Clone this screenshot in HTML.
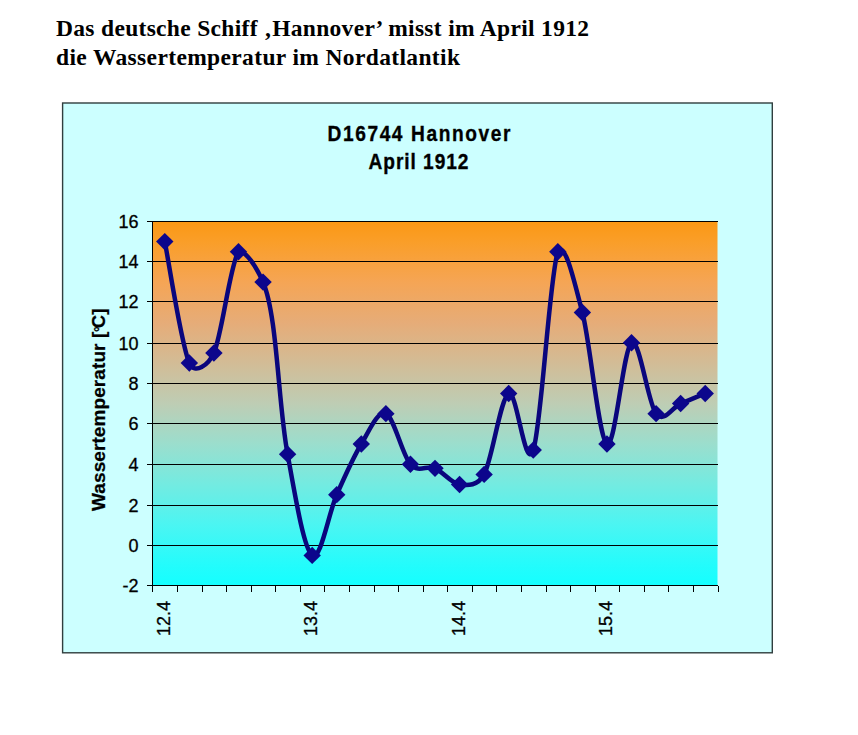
<!DOCTYPE html>
<html><head><meta charset="utf-8"><style>
html,body{margin:0;padding:0;background:#fff;width:858px;height:735px;overflow:hidden}
svg{position:absolute;left:0;top:0}
</style></head><body>
<svg width="858" height="735" viewBox="0 0 858 735">
<defs>
<linearGradient id="g" x1="0" y1="0" x2="0" y2="1">
<stop offset="0.000" stop-color="rgb(250,152,20)"/>
<stop offset="0.055" stop-color="rgb(250,158,40)"/>
<stop offset="0.167" stop-color="rgb(245,165,85)"/>
<stop offset="0.278" stop-color="rgb(230,172,120)"/>
<stop offset="0.389" stop-color="rgb(210,188,150)"/>
<stop offset="0.500" stop-color="rgb(190,205,180)"/>
<stop offset="0.611" stop-color="rgb(155,222,205)"/>
<stop offset="0.722" stop-color="rgb(115,235,225)"/>
<stop offset="0.833" stop-color="rgb(75,245,242)"/>
<stop offset="0.944" stop-color="rgb(35,252,252)"/>
<stop offset="1.000" stop-color="rgb(20,255,255)"/>
</linearGradient>
</defs>
<g font-family="'Liberation Serif', serif" font-weight="bold" font-size="23.5" fill="#000">
<text x="56" y="36" textLength="533" lengthAdjust="spacing">Das deutsche Schiff ‚Hannover’ misst im April 1912</text>
<text x="56" y="65" textLength="404" lengthAdjust="spacing">die Wassertemperatur im Nordatlantik</text>
</g>
<rect x="62.6" y="103" width="709.7" height="549.8" fill="#CCFFFF" stroke="rgb(48,62,62)" stroke-width="1.4"/>
<g font-family="'Liberation Sans', sans-serif" font-weight="bold" font-size="22" fill="#000" stroke="#000" stroke-width="0.35">
<text transform="translate(327.5,140.8) scale(0.87,1)" x="0" y="0" textLength="210.3" lengthAdjust="spacing">D16744 Hannover</text>
<text transform="translate(368.5,169) scale(0.87,1)" x="0" y="0" textLength="114.9" lengthAdjust="spacing">April 1912</text>
</g>
<rect x="152.5" y="221.35" width="565.0" height="364.4" fill="url(#g)"/>
<g stroke="#000" stroke-width="1" shape-rendering="crispEdges"><line x1="152.5" y1="221.5" x2="717.5" y2="221.5"/><line x1="152.5" y1="261.5" x2="717.5" y2="261.5"/><line x1="152.5" y1="301.5" x2="717.5" y2="301.5"/><line x1="152.5" y1="343.5" x2="717.5" y2="343.5"/><line x1="152.5" y1="383.5" x2="717.5" y2="383.5"/><line x1="152.5" y1="423.5" x2="717.5" y2="423.5"/><line x1="152.5" y1="464.5" x2="717.5" y2="464.5"/><line x1="152.5" y1="505.5" x2="717.5" y2="505.5"/><line x1="152.5" y1="545.5" x2="717.5" y2="545.5"/><line x1="152.5" y1="585.5" x2="717.5" y2="585.5"/><line x1="147" y1="221.5" x2="152.5" y2="221.5"/><line x1="147" y1="261.5" x2="152.5" y2="261.5"/><line x1="147" y1="301.5" x2="152.5" y2="301.5"/><line x1="147" y1="343.5" x2="152.5" y2="343.5"/><line x1="147" y1="383.5" x2="152.5" y2="383.5"/><line x1="147" y1="423.5" x2="152.5" y2="423.5"/><line x1="147" y1="464.5" x2="152.5" y2="464.5"/><line x1="147" y1="505.5" x2="152.5" y2="505.5"/><line x1="147" y1="545.5" x2="152.5" y2="545.5"/><line x1="147" y1="585.5" x2="152.5" y2="585.5"/><line x1="152.5" y1="585.5" x2="152.5" y2="592"/><line x1="177.5" y1="585.5" x2="177.5" y2="592"/><line x1="202.5" y1="585.5" x2="202.5" y2="592"/><line x1="226.5" y1="585.5" x2="226.5" y2="592"/><line x1="251.5" y1="585.5" x2="251.5" y2="592"/><line x1="275.5" y1="585.5" x2="275.5" y2="592"/><line x1="300.5" y1="585.5" x2="300.5" y2="592"/><line x1="324.5" y1="585.5" x2="324.5" y2="592"/><line x1="349.5" y1="585.5" x2="349.5" y2="592"/><line x1="374.5" y1="585.5" x2="374.5" y2="592"/><line x1="398.5" y1="585.5" x2="398.5" y2="592"/><line x1="423.5" y1="585.5" x2="423.5" y2="592"/><line x1="447.5" y1="585.5" x2="447.5" y2="592"/><line x1="472.5" y1="585.5" x2="472.5" y2="592"/><line x1="496.5" y1="585.5" x2="496.5" y2="592"/><line x1="521.5" y1="585.5" x2="521.5" y2="592"/><line x1="546.5" y1="585.5" x2="546.5" y2="592"/><line x1="570.5" y1="585.5" x2="570.5" y2="592"/><line x1="595.5" y1="585.5" x2="595.5" y2="592"/><line x1="619.5" y1="585.5" x2="619.5" y2="592"/><line x1="644.5" y1="585.5" x2="644.5" y2="592"/><line x1="668.5" y1="585.5" x2="668.5" y2="592"/><line x1="693.5" y1="585.5" x2="693.5" y2="592"/><line x1="718.5" y1="585.5" x2="718.5" y2="592"/>
<line x1="152.5" y1="221.35" x2="152.5" y2="592"/>
</g>
<g font-family="'Liberation Sans', sans-serif" font-size="18" fill="#000" stroke="#000" stroke-width="0.3" text-anchor="end"><text x="138.5" y="227.7">16</text><text x="138.5" y="267.7">14</text><text x="138.5" y="307.7">12</text><text x="138.5" y="349.7">10</text><text x="138.5" y="389.7">8</text><text x="138.5" y="429.7">6</text><text x="138.5" y="470.7">4</text><text x="138.5" y="511.7">2</text><text x="138.5" y="551.7">0</text><text x="138.5" y="591.7">-2</text></g>
<g font-family="'Liberation Sans', sans-serif" font-size="18" fill="#000" stroke="#000" stroke-width="0.3" text-anchor="end"><text transform="translate(169.8,601) rotate(-90)" x="0" y="0">12.4</text><text transform="translate(317.2,601) rotate(-90)" x="0" y="0">13.4</text><text transform="translate(464.6,601) rotate(-90)" x="0" y="0">14.4</text><text transform="translate(612.0,601) rotate(-90)" x="0" y="0">15.4</text></g>
<text transform="translate(104.5,511) rotate(-90)" textLength="202.5" lengthAdjust="spacing" font-family="'Liberation Sans', sans-serif" font-weight="bold" font-size="19" fill="#000" stroke="#000" stroke-width="0.25">Wassertemperatur [<tspan font-size="14" dx="-0.5">°</tspan><tspan dx="-1.5" font-size="18">C</tspan>]</text>
<path d="M164.78,241.59 C168.88,261.84 181.16,344.50 189.35,363.06 C194.71,375.21 208.55,365.09 213.91,352.94 C222.10,334.38 230.29,263.53 238.48,251.72 C245.46,250.15 256.24,266.47 263.04,282.08 C277.40,315.02 278.07,404.56 287.61,454.16 C295.80,499.71 303.99,548.64 312.17,555.38 C320.36,562.13 328.55,513.21 336.74,494.65 C344.93,476.09 353.12,457.54 361.30,444.04 C369.49,430.54 377.68,410.30 385.87,413.67 C394.06,417.05 402.25,455.17 410.43,464.28 C418.62,473.39 426.81,464.96 435.00,468.33 C443.19,471.71 451.38,483.52 459.57,484.53 C467.75,485.54 477.82,486.10 484.13,474.41 C492.32,459.22 500.51,397.48 508.70,393.43 C516.88,389.38 525.07,473.73 533.26,450.11 C541.45,426.49 549.64,274.66 557.83,251.72 C565.38,239.79 574.75,284.31 582.39,312.45 C590.58,344.50 598.77,438.98 606.96,444.04 C615.14,449.10 623.33,347.88 631.52,342.82 C639.71,337.76 647.90,403.55 656.09,413.67 C664.28,423.79 672.46,406.92 680.65,403.55 C688.84,400.18 701.12,395.11 705.22,393.43" fill="none" stroke="rgb(10,6,125)" stroke-width="4.5" stroke-linejoin="round" stroke-linecap="round"/>
<g fill="rgb(12,6,140)"><path d="M164.78,232.89L173.48,241.59L164.78,250.29L156.08,241.59Z"/><path d="M189.35,354.36L198.05,363.06L189.35,371.76L180.65,363.06Z"/><path d="M213.91,344.24L222.61,352.94L213.91,361.64L205.21,352.94Z"/><path d="M238.48,243.02L247.18,251.72L238.48,260.42L229.78,251.72Z"/><path d="M263.04,273.38L271.74,282.08L263.04,290.78L254.34,282.08Z"/><path d="M287.61,445.46L296.31,454.16L287.61,462.86L278.91,454.16Z"/><path d="M312.17,546.68L320.87,555.38L312.17,564.08L303.47,555.38Z"/><path d="M336.74,485.95L345.44,494.65L336.74,503.35L328.04,494.65Z"/><path d="M361.30,435.34L370.00,444.04L361.30,452.74L352.60,444.04Z"/><path d="M385.87,404.97L394.57,413.67L385.87,422.37L377.17,413.67Z"/><path d="M410.43,455.58L419.13,464.28L410.43,472.98L401.73,464.28Z"/><path d="M435.00,459.63L443.70,468.33L435.00,477.03L426.30,468.33Z"/><path d="M459.57,475.83L468.27,484.53L459.57,493.23L450.87,484.53Z"/><path d="M484.13,465.71L492.83,474.41L484.13,483.11L475.43,474.41Z"/><path d="M508.70,384.73L517.40,393.43L508.70,402.13L500.00,393.43Z"/><path d="M533.26,441.41L541.96,450.11L533.26,458.81L524.56,450.11Z"/><path d="M557.83,243.02L566.53,251.72L557.83,260.42L549.13,251.72Z"/><path d="M582.39,303.75L591.09,312.45L582.39,321.15L573.69,312.45Z"/><path d="M606.96,435.34L615.66,444.04L606.96,452.74L598.26,444.04Z"/><path d="M631.52,334.12L640.22,342.82L631.52,351.52L622.82,342.82Z"/><path d="M656.09,404.97L664.79,413.67L656.09,422.37L647.39,413.67Z"/><path d="M680.65,394.85L689.35,403.55L680.65,412.25L671.95,403.55Z"/><path d="M705.22,384.73L713.92,393.43L705.22,402.13L696.52,393.43Z"/></g>
</svg>
</body></html>
